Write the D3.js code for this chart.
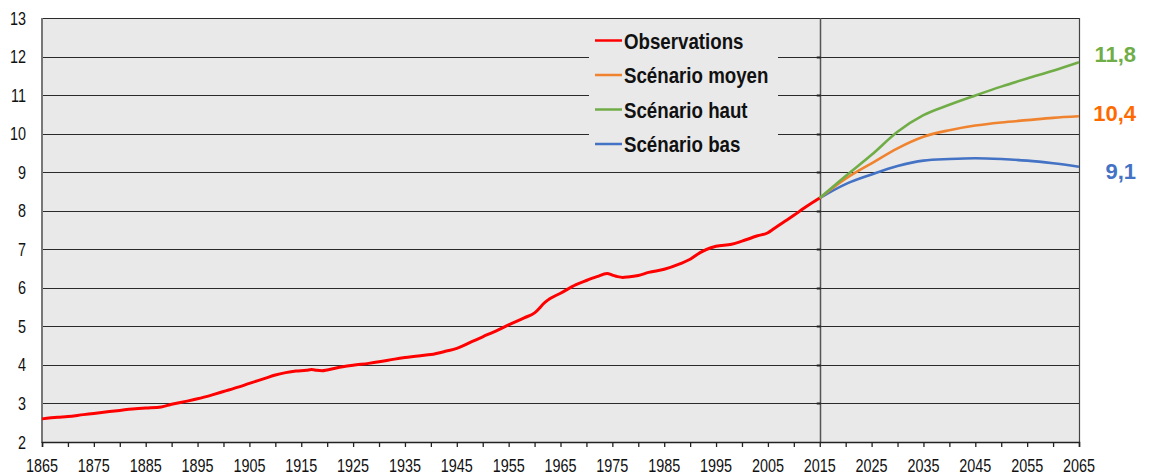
<!DOCTYPE html>
<html>
<head>
<meta charset="utf-8">
<script src="https://cdn.jsdelivr.net/npm/d3@7"></script>
<style>
  html, body { margin: 0; padding: 0; background: #ffffff; }
  svg { display: block; }
  .narrow { font-family: "Liberation Sans", Arial, sans-serif; }
  .wide { font-family: "Liberation Sans", Arial, sans-serif; }
</style>
</head>
<body>
<svg id="chart" width="1152" height="474"></svg>
<script>
// ---- Data ----
const obsYears = [1865,1868,1870,1873,1875,1878,1880,1883,1885,1888,1890,1893,1895,1898,1900,1903,1905,1908,1910,1912,1914,1916,1917,1918,1919,1920,1923,1925,1928,1930,1933,1935,1938,1940,1943,1945,1948,1950,1953,1955,1958,1960,1962,1963,1965,1968,1970,1972,1974,1975,1976,1977,1978,1980,1982,1985,1988,1990,1992,1994,1995,1998,2000,2003,2005,2006,2008,2010,2012,2015];
const obsValues = [2.60,2.64,2.66,2.71,2.74,2.79,2.82,2.86,2.88,2.91,2.98,3.06,3.12,3.23,3.31,3.43,3.52,3.65,3.74,3.80,3.84,3.86,3.88,3.86,3.85,3.87,3.95,3.99,4.04,4.08,4.15,4.19,4.24,4.27,4.36,4.43,4.61,4.73,4.91,5.04,5.22,5.35,5.62,5.72,5.86,6.08,6.19,6.29,6.37,6.33,6.29,6.27,6.28,6.32,6.40,6.48,6.62,6.74,6.92,7.04,7.08,7.13,7.21,7.35,7.43,7.52,7.70,7.88,8.07,8.33];

const projYears   = [2015,2020,2025,2030,2035,2040,2045,2050,2055,2060,2065];
const moyenValues = [8.33,8.83,9.23,9.62,9.92,10.09,10.21,10.29,10.35,10.41,10.45];
const hautValues  = [8.33,8.90,9.45,10.05,10.48,10.75,10.99,11.22,11.43,11.63,11.85];
const basValues   = [8.33,8.69,8.94,9.16,9.30,9.34,9.36,9.34,9.30,9.23,9.14];

const seriesNames  = ["Observations","Scénario moyen","Scénario haut","Scénario bas"];
const seriesColors = ["#ff0000","#f0832f","#70ad47","#4472c4"];
const endLabels    = ["10,4","11,8","9,1"];          // moyen, haut, bas
const endLabelColors = ["#ff6a00","#70ad47","#4472c4"];

const xTickLabels = [1865,1875,1885,1895,1905,1915,1925,1935,1945,1955,1965,1975,1985,1995,2005,2015,2025,2035,2045,2055,2065];
const xMinorTicks = d3.range(1865, 2066, 5);
const yTickLabels = [2,3,4,5,6,7,8,9,10,11,12,13];

// ---- Layout ----
const svg = d3.select("#chart");
const L = 42, R = 1079, T = 18, B = 442;
const NARROW = 0.85;   // horizontal condensing of the narrow typeface
const TICKNARROW = 0.8;
const x = d3.scaleLinear().domain([1865, 2065]).range([L, R]);
const y = d3.scaleLinear().domain([2, 13]).range([B, T]);

// plot background
svg.append("rect").attr("x", L).attr("y", T).attr("width", R - L).attr("height", B - T).attr("fill", "#e9e9e9");

// horizontal gridlines
svg.append("g").selectAll("line").data(yTickLabels.filter(d => d > 2)).join("line")
  .attr("x1", L).attr("x2", R)
  .attr("y1", d => Math.round(y(d)) + 0.5).attr("y2", d => Math.round(y(d)) + 0.5)
  .attr("stroke", "#2a2a2a").attr("stroke-width", 1.2);

// right border
svg.append("line").attr("x1", R + 0.5).attr("x2", R + 0.5).attr("y1", T).attr("y2", B)
  .attr("stroke", "#444").attr("stroke-width", 1.2);

// vertical line at 2015
svg.append("line").attr("x1", Math.round(x(2015)) + 0.5).attr("x2", Math.round(x(2015)) + 0.5)
  .attr("y1", T).attr("y2", B).attr("stroke", "#555").attr("stroke-width", 1.5);

// small ticks on 2015 line
svg.append("g").selectAll("line").data(yTickLabels.filter(d => d > 2 && d < 13)).join("line")
  .attr("x1", x(2015) - 3).attr("x2", x(2015) + 1)
  .attr("y1", d => Math.round(y(d)) + 0.5).attr("y2", d => Math.round(y(d)) + 0.5)
  .attr("stroke", "#222").attr("stroke-width", 2);

// legend box (covers gridlines)
const lgX = 589, lgY = 22, lgW = 189, lgH = 138;
svg.append("rect").attr("x", lgX).attr("y", lgY).attr("width", lgW).attr("height", lgH).attr("fill", "#e9e9e9");

// left axis
svg.append("line").attr("x1", L).attr("x2", L).attr("y1", T).attr("y2", B + 1)
  .attr("stroke", "#777").attr("stroke-width", 2);

// bottom axis
const xAxis = d3.axisBottom(x).tickValues(xMinorTicks).tickSize(5).tickFormat("");
const gx = svg.append("g").attr("transform", `translate(0,${B})`).call(xAxis);
gx.select(".domain").attr("stroke", "#222").attr("stroke-width", 1.5);
gx.selectAll(".tick line").attr("stroke", "#222").attr("stroke-width", 1.3);

svg.append("g").selectAll("text").data(xTickLabels).join("text")
  .attr("class", "narrow")
  .attr("transform", d => `translate(${x(d)},471.5) scale(${TICKNARROW},1)`)
  .attr("text-anchor", "middle").attr("font-size", 18).attr("fill", "#111")
  .text(d => d);

// y labels
svg.append("g").selectAll("text").data(yTickLabels).join("text")
  .attr("class", "narrow")
  .attr("transform", d => `translate(26,${y(d) + 6.5}) scale(${TICKNARROW},1)`)
  .attr("text-anchor", "end").attr("font-size", 18).attr("fill", "#111")
  .text(d => d);

// lines
const smooth = d3.line().x(d => x(d[0])).y(d => y(d[1])).curve(d3.curveMonotoneX);

const obs = obsYears.map((yr, i) => [yr, obsValues[i]]);
const projSeries = [moyenValues, hautValues, basValues].map(vals => projYears.map((yr, i) => [yr, vals[i]]));

svg.append("path").datum(obs).attr("d", smooth)
  .attr("fill", "none").attr("stroke", seriesColors[0]).attr("stroke-width", 3).attr("stroke-linejoin", "round");

// draw bas first, then moyen, then haut (overlap order)
[2, 0, 1].forEach(i => {
  svg.append("path").datum(projSeries[i]).attr("d", smooth)
    .attr("fill", "none").attr("stroke", seriesColors[i + 1]).attr("stroke-width", 2.6).attr("stroke-linejoin", "round");
});

// legend entries
const lgRowY = [40.5, 75, 109.5, 144];
const lg = svg.append("g");
seriesNames.forEach((name, i) => {
  lg.append("line").attr("x1", 595).attr("x2", 622).attr("y1", lgRowY[i]).attr("y2", lgRowY[i])
    .attr("stroke", seriesColors[i]).attr("stroke-width", 2.5);
  lg.append("text").attr("class", "narrow")
    .attr("transform", `translate(624,${lgRowY[i] + 8}) scale(${NARROW},1)`)
    .attr("font-size", 22).attr("font-weight", "bold").attr("fill", "#111").text(name);
});

// end labels
const endY = [121, 61.5, 179];
endLabels.forEach((t, i) => {
  svg.append("text").attr("class", "wide").attr("x", 1136).attr("y", endY[i])
    .attr("text-anchor", "end").attr("font-size", 22).attr("font-weight", "bold")
    .attr("fill", endLabelColors[i]).text(t);
});
</script>
</body>
</html>
